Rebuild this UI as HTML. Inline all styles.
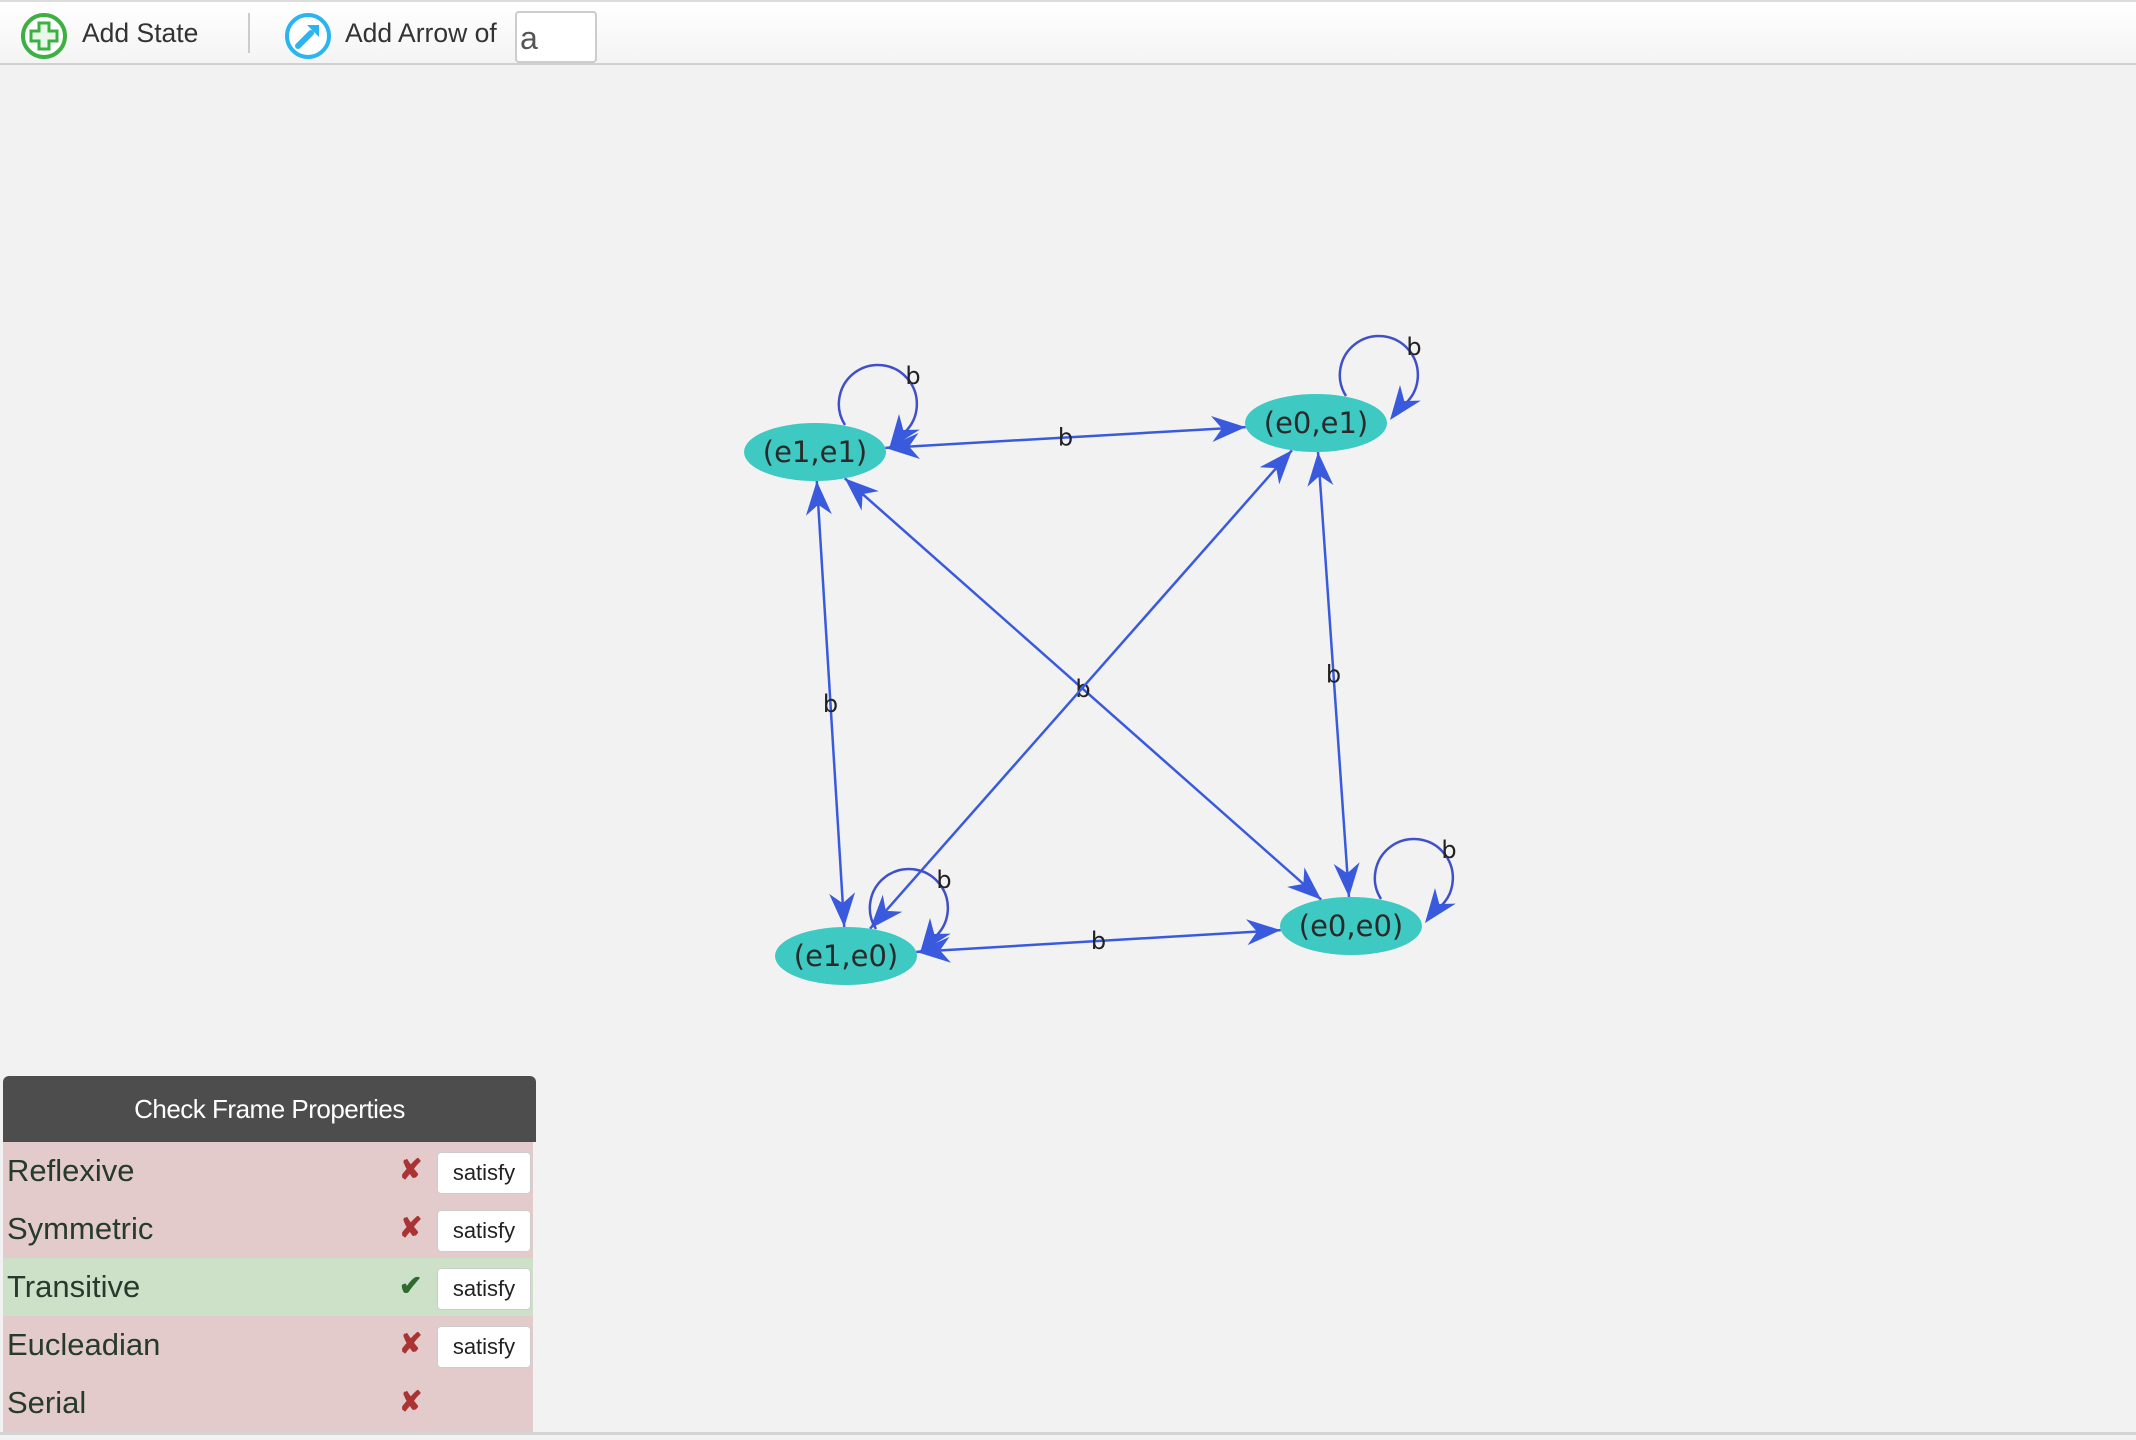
<!DOCTYPE html>
<html><head><meta charset="utf-8"><style>
body{margin:0;width:2136px;height:1440px;background:#f2f2f2;font-family:"Liberation Sans",sans-serif;position:relative;overflow:hidden}
#toolbar{position:absolute;left:0;top:0;width:2136px;height:65px;background:linear-gradient(#fff,#f4f4f4);border-top:2px solid #ddd;border-bottom:2px solid #d0d0d0;box-sizing:border-box}
.tb{position:absolute;font-size:26.5px;color:#333;top:16px}
#panel{position:absolute;left:3px;top:1076px;width:533px}
#hdr{height:66px;background:#4d4d4d;border-radius:6px 6px 0 0;color:#fff;font-size:26px;text-align:center;line-height:66px;letter-spacing:-0.5px}
.row{height:58px;background:#e3cbcb;position:relative;width:530px}
.row.ok{background:#cde1c8}
.row .lab{position:absolute;left:4px;top:11px;font-size:31px;color:#263a2e}
.row .mk{position:absolute;left:396px;top:11px;font-size:28px;color:#a33;font-weight:bold}
.row.ok .mk{color:#2e6b2e}
.row button{position:absolute;left:434px;top:10px;width:94px;height:42px;background:#fff;border:1px solid #ccc;border-radius:4px;font-family:"Liberation Sans",sans-serif;font-size:22px;color:#222;padding:0}
#bottomline{position:absolute;left:0;top:1432px;width:2136px;height:3px;background:#d4d4d4}
</style></head><body>
<div id="toolbar">
 <svg style="position:absolute;left:19px;top:9px" width="50" height="50">
  <circle cx="25" cy="25" r="21" fill="#fff" stroke="#3cb043" stroke-width="4"/>
  <path d="M20 12h10v8h8v10h-8v8h-10v-8h-8v-10h8z" fill="#e8f8e8" stroke="#3cb043" stroke-width="3"/>
 </svg>
 <div class="tb" style="left:82px">Add State</div>
 <div style="position:absolute;left:248px;top:11px;width:2px;height:40px;background:#ccc"></div>
 <svg style="position:absolute;left:283px;top:9px" width="50" height="50">
  <circle cx="25" cy="25" r="21" fill="#fff" stroke="#2bb5f0" stroke-width="4"/>
  <path d="M15 35L28 22" stroke="#2bb5f0" stroke-width="6" stroke-linecap="round"/>
  <path d="M24 14L36 14L36 26Z" fill="#2bb5f0"/>
 </svg>
 <div class="tb" style="left:345px">Add Arrow of</div>
 <div style="position:absolute;left:515px;top:9px;width:82px;height:52px;background:#fff;border:2px solid #ccc;border-radius:4px;box-sizing:border-box;font-size:32px;color:#555;padding-left:3px;line-height:50px">a</div>
</div>

<svg id="graph" width="2136" height="1440" style="position:absolute;left:0;top:0"></svg>

<div id="panel">
 <div id="hdr">Check Frame Properties</div>
 <div class="row"><span class="lab">Reflexive</span><span class="mk">✘</span><button>satisfy</button></div>
 <div class="row"><span class="lab">Symmetric</span><span class="mk">✘</span><button>satisfy</button></div>
 <div class="row ok"><span class="lab">Transitive</span><span class="mk">✔</span><button>satisfy</button></div>
 <div class="row"><span class="lab">Eucleadian</span><span class="mk">✘</span><button>satisfy</button></div>
 <div class="row"><span class="lab">Serial</span><span class="mk">✘</span></div>
</div>
<div id="bottomline"></div>

<script>
const nodeNames = ["(e1,e1)","(e0,e1)","(e1,e0)","(e0,e0)"];
const nodeX = [815,1316,846,1351];
const nodeY = [452,423,956,926];
const edgeFrom = [0,0,1,2,0,2];
const edgeTo   = [1,2,3,3,3,1];
const edgeLabel = ["b","b","b","b","b",""];
const loopLabel = ["b","b","b","b"];
const RX=71, RY=29, COL="#3a5ade";
const NS="http://www.w3.org/2000/svg";
const svg=document.getElementById('graph');
function mk(t,a){const e=document.createElementNS(NS,t);for(const k in a)e.setAttribute(k,a[k]);svg.appendChild(e);return e;}
function bnd(i,ux,uy){const t=1/Math.sqrt((ux/RX)**2+(uy/RY)**2);return [nodeX[i]+ux*t,nodeY[i]+uy*t];}
function arrow(tx,ty,ux,uy,name){
  const L=34,W=13,bx=tx-ux*L,by=ty-uy*L,nx=-uy,ny=ux;
  const bx2=tx-ux*L*0.7,by2=ty-uy*L*0.7;
  const p=mk('path',{d:`M${tx},${ty}L${bx+nx*W},${by+ny*W}L${bx2},${by2}L${bx-nx*W},${by-ny*W}Z`,fill:COL});
  
  
}
function label(x,y,t,name){
  const e=mk('text',{x:x,y:y+8,'text-anchor':'middle','font-size':24,fill:'#222','font-family':'DejaVu Sans, sans-serif'});
  e.textContent=t;
  
  
}
for(let k=0;k<edgeFrom.length;k++){
  const a=edgeFrom[k],b=edgeTo[k];
  let dx=nodeX[b]-nodeX[a],dy=nodeY[b]-nodeY[a],d=Math.hypot(dx,dy),ux=dx/d,uy=dy/d;
  const p1=bnd(a,ux,uy),p2=bnd(b,-ux,-uy);
  const l=mk('line',{x1:p1[0],y1:p1[1],x2:p2[0],y2:p2[1],stroke:COL,'stroke-width':2.5});
  
  
  arrow(p2[0],p2[1],ux,uy,'arrowhead-'+k+'-end');
  arrow(p1[0],p1[1],-ux,-uy,'arrowhead-'+k+'-start');
  if(edgeLabel[k])label((nodeX[a]+nodeX[b])/2,(nodeY[a]+nodeY[b])/2,edgeLabel[k],'edge-label-'+k);
}
for(let i=0;i<4;i++){
  const x=nodeX[i],y=nodeY[i];
  const sx=x+30,sy=y-27,ex=x+90,ey=y-20;
  const p=mk('path',{d:`M${sx},${sy}A39,39 0 1 1 ${ex},${ey}`,fill:'none',stroke:'#4050c8','stroke-width':2.5});
  
  
  arrow(x+74,y-3,-0.6,0.8,'self-loop-arrow-'+i);
  label(x+98,y-76,loopLabel[i],'self-loop-label-'+i);
}
for(let i=0;i<4;i++){
  const e=mk('ellipse',{cx:nodeX[i],cy:nodeY[i],rx:RX,ry:RY,fill:'#3ec9c2'});
  
  
  const t=mk('text',{x:nodeX[i],y:nodeY[i]+10,'text-anchor':'middle','font-size':29,fill:'#2a2a2a','font-family':'DejaVu Sans, sans-serif','font-weight':'500'});
  t.textContent=nodeNames[i];
  
  
}
</script>
</body></html>
